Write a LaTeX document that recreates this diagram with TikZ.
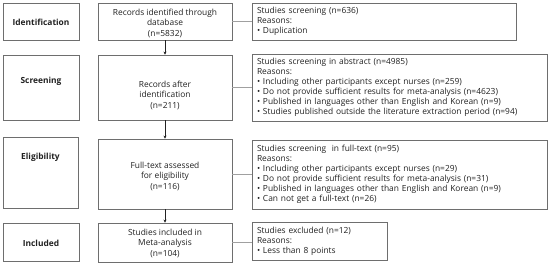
\documentclass[tikz,border=0pt]{standalone}
\usepackage{fontspec}
\setmainfont{Open Sans}
\usetikzlibrary{arrows.meta}
\definecolor{boxgray}{HTML}{6E6E6E}
\definecolor{linegray}{HTML}{A0A0A0}
\definecolor{txt}{HTML}{222222}
\begin{document}
\begin{tikzpicture}[x=1pt,y=-1pt,
  font=\fontsize{8.4}{10}\selectfont, text=txt,
  box/.style={draw=boxgray, line width=0.8pt, inner sep=0pt, align=center},
  boxtext/.style={align=center, inner sep=0pt, font=\fontsize{8.4}{10.5}\selectfont},
  sidebox/.style={draw=boxgray, line width=0.8pt, inner xsep=5pt, inner ysep=0pt, align=left},
  stagelbl/.style={font=\fontsize{8.4}{10}\selectfont\bfseries},
  flow/.style={draw=txt, line width=0.5pt, -{Stealth[length=3pt,width=3pt]}},
  side/.style={draw=linegray, line width=0.8pt}]
\useasboundingbox (0,0) rectangle (550,264);
\fill[white] (0,0) rectangle (550,264);
% stage labels
\node[box, minimum width=76pt, minimum height=37pt] (L1) at (41,21.5) {};
\node[stagelbl] (t1) at (41,22.5) {Identification};
\node[box, minimum width=76pt, minimum height=65pt] (L2) at (41,87.5) {};
\node[stagelbl] (t2) at (41,81) {Screening};
\node[box, minimum width=75pt, minimum height=71pt] (L3) at (40.5,172.5) {};
\node[stagelbl] (t3) at (40.5,157) {Eligibility};
\node[box, minimum width=76pt, minimum height=38pt] (L4) at (41,242) {};
\node[stagelbl] (t4) at (41,243) {Included};
% main boxes
\node[box, minimum width=134pt, minimum height=37pt] (M1) at (165,21.5) {};
\node[boxtext] (m1t) at (165,23) {Records identified through\\database\\(n=5832)};
\node[box, minimum width=134pt, minimum height=65pt] (M2) at (165,87.5) {};
\node[boxtext] (m2t) at (165,95) {Records after\\identification\\(n=211)};
\node[box, minimum width=134pt, minimum height=70pt] (M3) at (165,174) {};
\node[boxtext] (m3t) at (165,176) {Full-text assessed\\for eligibility\\(n=116)};
\node[box, minimum width=134pt, minimum height=39pt] (M4) at (165,242.5) {};
\node[boxtext] (m4t) at (165,243) {Studies included in\\Meta-analysis\\(n=104)};
% side boxes
\node[sidebox, text width=254pt, minimum height=37pt] (S1) at (384,21.5) {Studies screening (n=636)\\Reasons:\\• Duplication};
\node[sidebox, text width=285pt, minimum height=67pt] (S2) at (399.5,87.5) {Studies screening in abstract (n=4985)\\Reasons:\\• Including other participants except nurses (n=259)\\• Do not provide sufficient results for meta-analysis (n=4623)\\• Published in languages other than English and Korean (n=9)\\• Studies published outside the literature extraction period (n=94)};
\node[sidebox, text width=285pt, minimum height=69pt] (S3) at (399.5,174.5) {Studies screening \ in full-text (n=95)\\Reasons:\\• Including other participants except nurses (n=29)\\• Do not provide sufficient results for meta-analysis (n=31)\\• Published in languages other than English and Korean (n=9)\\• Can not get a full-text (n=26)};
\node[sidebox, text width=125pt, minimum height=38pt] (S4) at (319.5,241) {Studies excluded (n=12)\\Reasons:\\• Less than 8 points};
% connectors
\draw[flow] (M1) -- (M2);
\draw[flow] (M2) -- (M3);
\draw[flow] (M3) -- (M4);
\draw[side] (M1.east) -- (S1.west |- M1.east);
\draw[side] (M2.east) -- (S2.west |- M2.east);
\draw[side] (M3.east) -- (S3.west |- M3.east);
\draw[side] (M4.east) -- (S4.west |- M4.east);
\end{tikzpicture}
\end{document}
